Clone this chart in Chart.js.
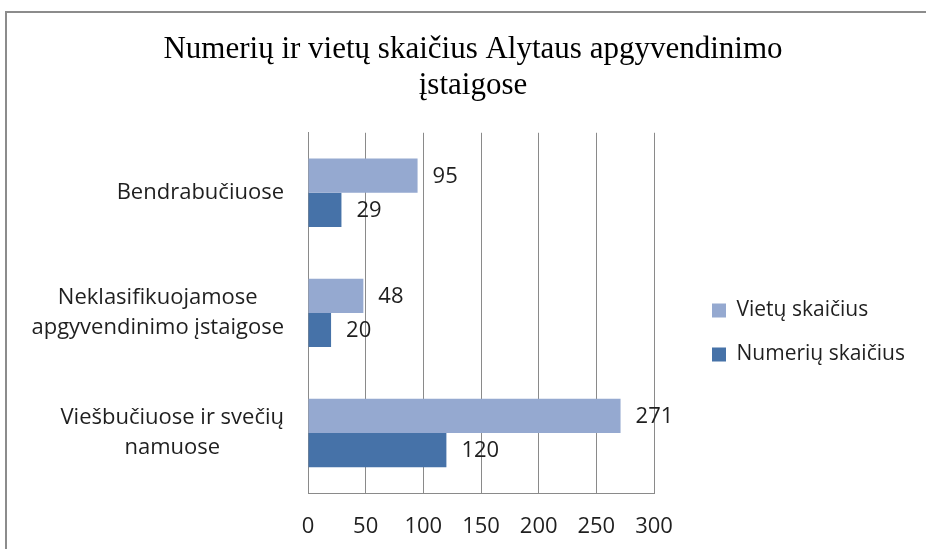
<!doctype html>
<html lang="lt">
  <head>
    <meta charset="utf-8">
    <title>Numerių ir vietų skaičius Alytaus apgyvendinimo įstaigose</title>
    <style>
      * {
        margin: 0;
        padding: 0;
      }
      body {
        width: 926px;
        height: 549px;
        overflow: hidden;
        background: #fff;
        position: relative;
      }
      .frame {
        position: absolute;
        left: 5px;
        top: 11px;
        width: 1000px;
        height: 1000px;
        border: 2px solid #8c8c8c;
      }
      .chartBox {
        position: absolute;
        left: 0;
        top: 0;
        width: 926px;
        height: 549px;
      }
    </style>
  </head>
  <body>
    <div class="frame"></div>
    <div class="chartBox">
      <canvas id="myChart"></canvas>
    </div>
    <script src="https://cdn.jsdelivr.net/npm/chart.js"></script>
    <script>
    // data
    const categories = [
      ['Bendrabučiuose'],
      ['Neklasifikuojamose', 'apgyvendinimo įstaigose'],
      ['Viešbučiuose ir svečių', 'namuose']
    ];
    const vietuSkaicius = [95, 48, 271];
    const numeriuSkaicius = [29, 20, 120];
    const xTicks = [0, 50, 100, 150, 200, 250, 300];

    const textColor = '#1f1f1f';
    const gridColor = '#8a8a8a';

    // category names on the left, lines centred inside a right-aligned block
    const categoryLabels = {
      id: 'categoryLabels',
      afterDraw(chart) {
        const ctx = chart.ctx;
        const yScale = chart.scales.y;
        ctx.save();
        ctx.font = '22px "Open Sans"';
        ctx.fillStyle = textColor;
        ctx.textAlign = 'center';
        ctx.textBaseline = 'middle';
        chart.data.labels.forEach((lines, i) => {
          const w = Math.max(...lines.map(l => ctx.measureText(l).width));
          const cx = yScale.right - 24 - w / 2;
          const cy = yScale.getPixelForTick(i);
          lines.forEach((l, j) => {
            ctx.fillText(l, cx, cy + (j - (lines.length - 1) / 2) * 30);
          });
        });
        ctx.restore();
      }
    };

    // value next to the end of each bar
    const valueLabels = {
      id: 'valueLabels',
      afterDatasetsDraw(chart) {
        const ctx = chart.ctx;
        ctx.save();
        ctx.font = '22px "Open Sans"';
        ctx.fillStyle = textColor;
        ctx.textAlign = 'left';
        ctx.textBaseline = 'middle';
        chart.data.datasets.forEach((ds, di) => {
          chart.getDatasetMeta(di).data.forEach((bar, i) => {
            ctx.fillText(ds.data[i], bar.x + 15, bar.y + 1);
          });
        });
        ctx.restore();
      }
    };

    // move the legend a little away from the plot and down, like the original
    const legendShift = {
      id: 'legendShift',
      afterLayout(chart) {
        const lg = chart.legend;
        lg.left += 35;
        lg.right += 35;
        lg.top += 58;
        lg.bottom += 58;
      }
    };

    const data = {
      labels: categories,
      datasets: [{
        label: 'Vietų skaičius',
        data: vietuSkaicius,
        backgroundColor: '#95a9d0',
        categoryPercentage: 0.57,
        barPercentage: 1.0
      }, {
        label: 'Numerių skaičius',
        data: numeriuSkaicius,
        backgroundColor: '#4672a8',
        categoryPercentage: 0.57,
        barPercentage: 1.0
      }]
    };

    const config = {
      type: 'bar',
      data,
      options: {
        indexAxis: 'y',
        responsive: true,
        maintainAspectRatio: false,
        animation: false,
        layout: {
          padding: { left: 34, right: 14, top: 0, bottom: 0 }
        },
        scales: {
          x: {
            min: 0,
            max: 300,
            afterBuildTicks(scale) {
              scale.ticks = xTicks.map(v => ({ value: v }));
            },
            afterFit(scale) {
              scale.height = 56;
              scale.paddingRight = 272;
            },
            ticks: {
              font: { family: 'Open Sans', size: 22 },
              color: textColor,
              padding: 21
            },
            grid: {
              color: gridColor,
              drawTicks: false
            },
            border: { color: gridColor }
          },
          y: {
            ticks: { display: false },
            grid: { display: false },
            border: { color: gridColor },
            afterFit(scale) {
              scale.width = 274;
            }
          }
        },
        plugins: {
          title: {
            display: true,
            text: ['Numerių ir vietų skaičius Alytaus apgyvendinimo', 'įstaigose'],
            font: { family: 'Liberation Serif', size: 31, weight: 'normal', lineHeight: 1.19 },
            color: '#000',
            padding: { top: 31, bottom: 28 }
          },
          legend: {
            position: 'right',
            labels: {
              font: { family: 'Open Sans', size: 21 },
              color: textColor,
              boxWidth: 14,
              boxHeight: 14,
              padding: 23
            }
          },
          tooltip: { enabled: false }
        }
      },
      plugins: [categoryLabels, valueLabels, legendShift]
    };

    const myChart = new Chart(document.getElementById('myChart'), config);
    </script>
  </body>
</html>
